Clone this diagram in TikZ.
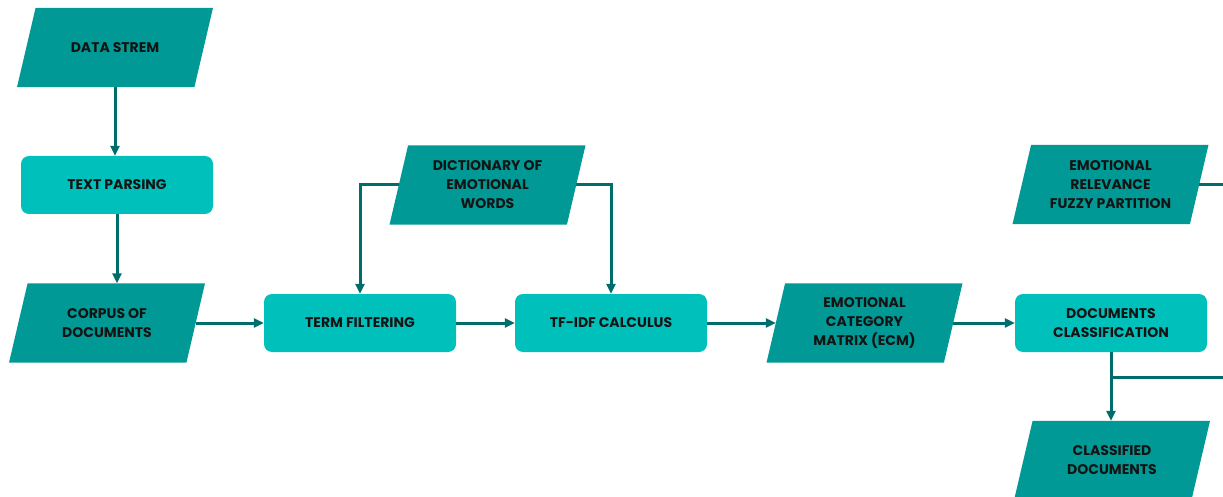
\documentclass[tikz,border=0pt]{standalone}
\usepackage{fontspec}
\setmainfont{Poppins}
\usetikzlibrary{arrows.meta,backgrounds}
\definecolor{para}{HTML}{009995}
\definecolor{boxc}{HTML}{00C0BC}
\definecolor{linec}{HTML}{006D6D}
\definecolor{txt}{HTML}{141414}
\tikzset{
 lbl/.style={font=\bfseries\fontsize{14}{19}\selectfont, text=txt, align=center, inner sep=0pt},
 proc/.style={lbl, fill=boxc, rounded corners=8pt, minimum width=192pt, minimum height=58pt},
 io/.style={lbl, minimum width=177pt, minimum height=79pt},
 conn/.style={draw=linec, line width=3pt, -{Triangle[length=10pt,width=9pt]}},
 plainc/.style={draw=linec, line width=3pt},
}
\newcommand\myparal[1]{\fill[para] ([xshift=9.3pt]#1.north west) -- ([xshift=9.3pt]#1.north east) -- ([xshift=-9.3pt]#1.south east) -- ([xshift=-9.3pt]#1.south west) -- cycle;}
\begin{document}
\begin{tikzpicture}[x=1pt,y=-1pt]
\useasboundingbox (0,0) rectangle (1223,497);
\clip (0,0) rectangle (1223,497);
\node[io] (data) at (115,47.5) {DATA STREM};
\node[proc] (tp) at (117,185) {TEXT PARSING};
\node[io] (corpus) at (107,323) {CORPUS OF\\DOCUMENTS};
\node[proc] (term) at (360,323) {TERM FILTERING};
\node[proc] (tfidf) at (611,323) {TF-IDF CALCULUS};
\node[io] (dict) at (487.5,185) {DICTIONARY OF\\EMOTIONAL\\WORDS};
\node[io] (ecm) at (864.5,323) {EMOTIONAL\\CATEGORY\\MATRIX (ECM)};
\node[proc] (dc) at (1111,323) {DOCUMENTS\\CLASSIFICATION};
\node[io] (erf) at (1110.5,184.5) {EMOTIONAL\\RELEVANCE\\FUZZY PARTITION};
\node[io] (cd) at (1112,460.5) {CLASSIFIED\\DOCUMENTS};
\coordinate (e1) at (1223,184.5);
\coordinate (e2) at (1223,377);
\coordinate (br) at (1111,377);
\begin{scope}[on background layer]
\myparal{data}\myparal{corpus}\myparal{dict}\myparal{ecm}\myparal{erf}\myparal{cd}
\end{scope}
\draw[conn] (data.south) -- (data.south |- tp.north);
\draw[conn] (tp.south) -- (tp.south |- corpus.north);
\draw[conn] (corpus.east) -- (term.west);
\draw[conn] (term.east) -- (tfidf.west);
\draw[conn] (tfidf.east) -- (ecm.west);
\draw[conn] (ecm.east) -- (dc.west);
\draw[conn] (dict.west) -| (term.north);
\draw[conn] (dict.east) -| (tfidf.north);
\draw[plainc] (erf.east) -- (e1);
\draw[conn] (dc.south) -- (dc.south |- cd.north);
\draw[plainc] (br) -- (e2);
\end{tikzpicture}
\end{document}
